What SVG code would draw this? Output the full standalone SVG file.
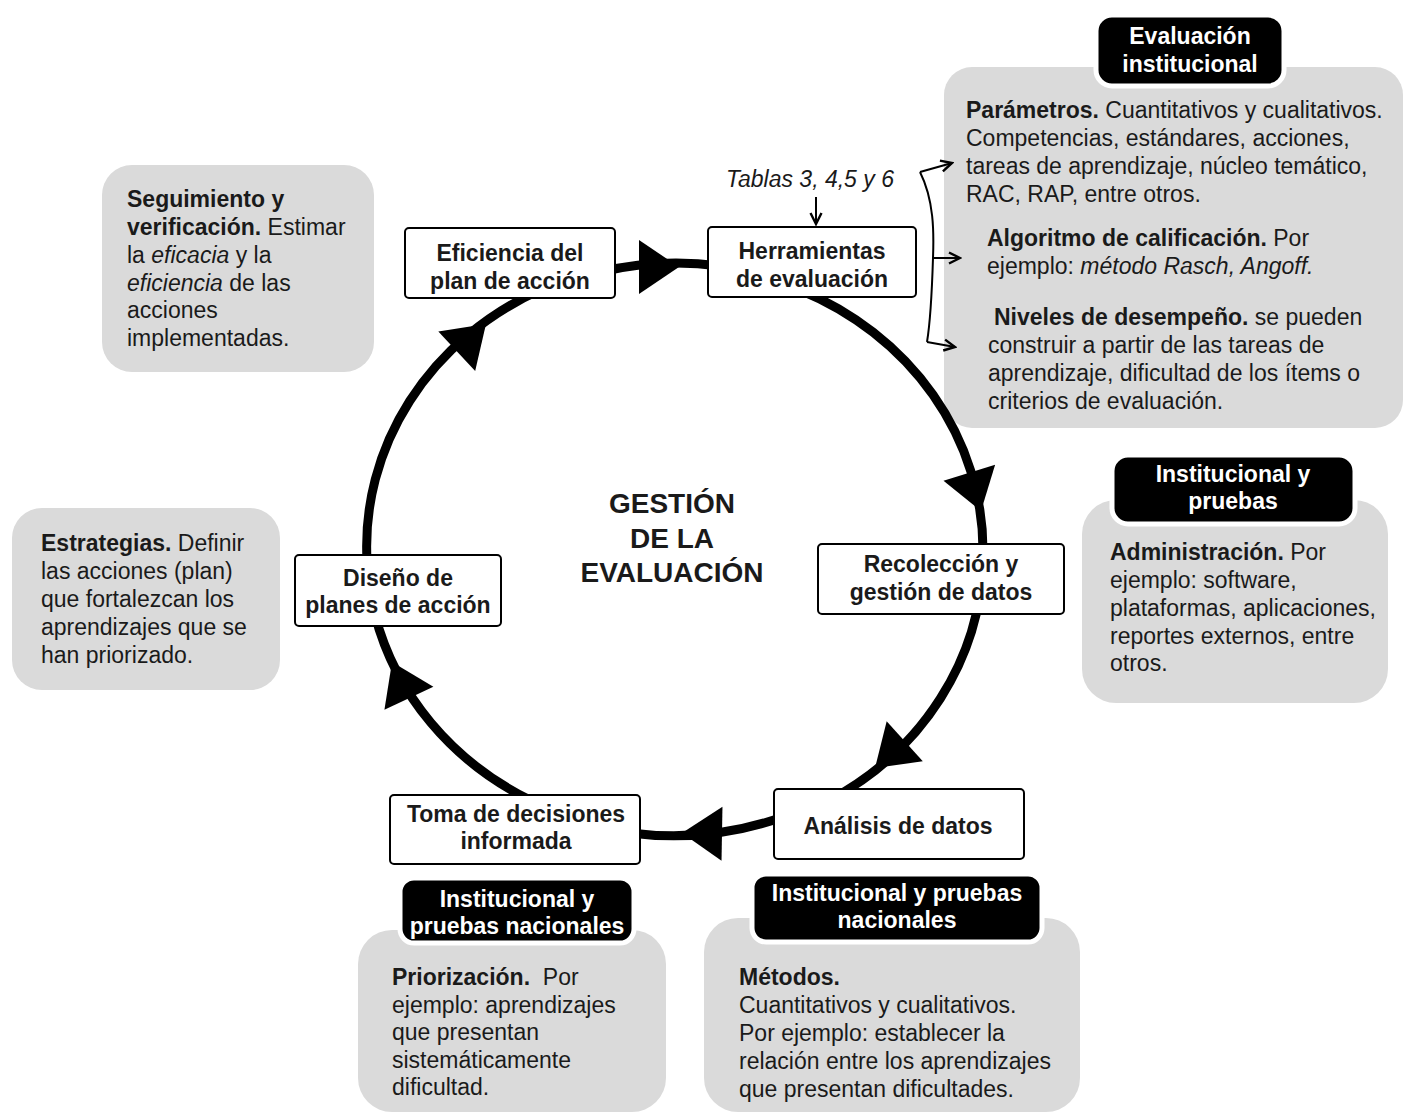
<svg xmlns="http://www.w3.org/2000/svg" xmlns:xlink="http://www.w3.org/1999/xlink" width="1404" height="1114" viewBox="0 0 1404 1114">
<style>
text{font-family:"Liberation Sans",Arial,sans-serif;font-size:23px;fill:#1a1a1a}
.b{font-weight:bold}
.i{font-style:italic}
.c{text-anchor:middle}
.w{fill:#fff;font-weight:bold}
.gray{fill:#dadada}
.tag{fill:#000;stroke:#fff;stroke-width:5}
.node{fill:#fff;stroke:#000;stroke-width:2}
.ring{fill:none;stroke:#000;stroke-width:9}
.thin{fill:none;stroke:#000;stroke-width:2}
.big{font-size:28px;font-weight:bold}
</style>
<defs>
<path id="ah" d="M0,0 L-40,-27 L-40,27 Z" fill="#000"/>
<marker id="open" viewBox="0 0 14 14" refX="12" refY="7" markerWidth="14" markerHeight="14" markerUnits="userSpaceOnUse" orient="auto">
<path d="M1,1.5 L12,7 L1,12.5" fill="none" stroke="#000" stroke-width="2.4"/>
</marker>
</defs>

<g id="info-evaluacion">
<rect class="gray" x="944" y="67" width="459" height="361" rx="28"/>
<rect class="tag" x="1096" y="15" width="188" height="71" rx="16"/>
<text class="w c" x="1190" y="44">Evaluación</text>
<text class="w c" x="1190" y="72">institucional</text>
<text x="966" y="118"><tspan class="b">Parámetros.</tspan> Cuantitativos y cualitativos.</text>
<text x="966" y="146">Competencias, estándares, acciones,</text>
<text x="966" y="174">tareas de aprendizaje, núcleo temático,</text>
<text x="966" y="202">RAC, RAP, entre otros.</text>
<text x="987" y="246"><tspan class="b">Algoritmo de calificación.</tspan> Por</text>
<text x="987" y="274">ejemplo: <tspan class="i">método Rasch, Angoff.</tspan></text>
<text x="994" y="325"><tspan class="b">Niveles de desempeño.</tspan> se pueden</text>
<text x="988" y="353">construir a partir de las tareas de</text>
<text x="988" y="381">aprendizaje, dificultad de los ítems o</text>
<text x="988" y="409">criterios de evaluación.</text>
</g>

<g id="info-seguimiento">
<rect class="gray" x="102" y="165" width="272" height="207" rx="30"/>
<text class="b" x="127" y="207">Seguimiento y</text>
<text x="127" y="235"><tspan class="b">verificación.</tspan> Estimar</text>
<text x="127" y="263">la <tspan class="i">eficacia</tspan> y la</text>
<text x="127" y="291"><tspan class="i">eficiencia</tspan> de las</text>
<text x="127" y="318">acciones</text>
<text x="127" y="346">implementadas.</text>
</g>

<g id="info-estrategias">
<rect class="gray" x="12" y="508" width="268" height="182" rx="30"/>
<text x="41" y="551"><tspan class="b">Estrategias.</tspan> Definir</text>
<text x="41" y="579">las acciones (plan)</text>
<text x="41" y="607">que fortalezcan los</text>
<text x="41" y="635">aprendizajes que se</text>
<text x="41" y="663">han priorizado.</text>
</g>

<g id="info-administracion">
<rect class="gray" x="1082" y="500" width="306" height="203" rx="34"/>
<rect class="tag" x="1112" y="455" width="243" height="69" rx="16"/>
<text class="w c" x="1233" y="482">Institucional y</text>
<text class="w c" x="1233" y="509">pruebas</text>
<text x="1110" y="560"><tspan class="b">Administración.</tspan> Por</text>
<text x="1110" y="588">ejemplo: software,</text>
<text x="1110" y="616">plataformas, aplicaciones,</text>
<text x="1110" y="644">reportes externos, entre</text>
<text x="1110" y="671">otros.</text>
</g>

<g id="info-priorizacion">
<rect class="gray" x="358" y="930" width="308" height="182" rx="34"/>
<rect class="tag" x="400" y="878" width="234" height="65" rx="14"/>
<text class="w c" x="517" y="907">Institucional y</text>
<text class="w c" x="517" y="934">pruebas nacionales</text>
<text x="392" y="985" style="white-space:pre"><tspan class="b">Priorización.</tspan>  Por</text>
<text x="392" y="1013">ejemplo: aprendizajes</text>
<text x="392" y="1040">que presentan</text>
<text x="392" y="1068">sistemáticamente</text>
<text x="392" y="1095">dificultad.</text>
</g>

<g id="info-metodos">
<rect class="gray" x="704" y="918" width="376" height="194" rx="34"/>
<rect class="tag" x="752" y="874" width="290" height="68" rx="14"/>
<text class="w c" x="897" y="901">Institucional y pruebas</text>
<text class="w c" x="897" y="928">nacionales</text>
<text class="b" x="739" y="985">Métodos.</text>
<text x="739" y="1013">Cuantitativos y cualitativos.</text>
<text x="739" y="1041">Por ejemplo: establecer la</text>
<text x="739" y="1069">relación entre los aprendizajes</text>
<text x="739" y="1097">que presentan dificultades.</text>
</g>

<g id="center-title">
<text class="big c" x="672" y="513">GESTIÓN</text>
<text class="big c" x="672" y="548">DE LA</text>
<text class="big c" x="672" y="582">EVALUACIÓN</text>
</g>

<g id="tablas">
<text class="i c" x="810" y="187">Tablas 3, 4,5 y 6</text>
</g>

<g id="connectors">
<path class="ring" d="M 600 272 A 308 285 0 0 1 720 266"/>
<path class="ring" d="M 800 290 A 308 285 0 0 1 983 550"/>
<path class="ring" d="M 983 560 A 308 285 0 0 1 830 800"/>
<path class="ring" d="M 780 818 A 308 285 0 0 1 630 833"/>
<path class="ring" d="M 530 800 A 308 285 0 0 1 375 615"/>
<path class="ring" d="M 367 560 A 308 285 0 0 1 540 290"/>
<use xlink:href="#ah" href="#ah" transform="translate(679,267) rotate(0)"/>
<use xlink:href="#ah" href="#ah" transform="translate(981,511) rotate(73)"/>
<use xlink:href="#ah" href="#ah" transform="translate(875,768) rotate(138)"/>
<use xlink:href="#ah" href="#ah" transform="translate(682,833) rotate(181)"/>
<use xlink:href="#ah" href="#ah" transform="translate(392,662) rotate(245)"/>
<use xlink:href="#ah" href="#ah" transform="translate(486,324) rotate(-43)"/>
<path class="thin" d="M 816 197 L 816 224" marker-end="url(#open)"/>
<path class="thin" d="M 920 172 C 934 200, 934 232, 933 258 C 932 290, 931 318, 927 342"/>
<path class="thin" d="M 920 172 L 952 163" marker-end="url(#open)"/>
<path class="thin" d="M 933 258 L 960 258" marker-end="url(#open)"/>
<path class="thin" d="M 927 342 L 955 347" marker-end="url(#open)"/>
</g>

<g id="n-eficiencia">
<rect class="node" x="405" y="228" width="210" height="70" rx="4"/>
<text class="b c" x="510" y="261">Eficiencia del</text>
<text class="b c" x="510" y="289">plan de acción</text>
</g>

<g id="n-herramientas">
<rect class="node" x="708" y="227" width="208" height="70" rx="4"/>
<text class="b c" x="812" y="259">Herramientas</text>
<text class="b c" x="812" y="287">de evaluación</text>
</g>

<g id="n-recoleccion">
<rect class="node" x="818" y="544" width="246" height="70" rx="4"/>
<text class="b c" x="941" y="572">Recolección y</text>
<text class="b c" x="941" y="600">gestión de datos</text>
</g>

<g id="n-analisis">
<rect class="node" x="774" y="789" width="250" height="70" rx="4"/>
<text class="b c" x="898" y="834">Análisis de datos</text>
</g>

<g id="n-toma">
<rect class="node" x="390" y="795" width="250" height="69" rx="4"/>
<text class="b c" x="516" y="822">Toma de decisiones</text>
<text class="b c" x="516" y="849">informada</text>
</g>

<g id="n-diseno">
<rect class="node" x="295" y="555" width="206" height="71" rx="4"/>
<text class="b c" x="398" y="586">Diseño de</text>
<text class="b c" x="398" y="613">planes de acción</text>
</g>
</svg>
